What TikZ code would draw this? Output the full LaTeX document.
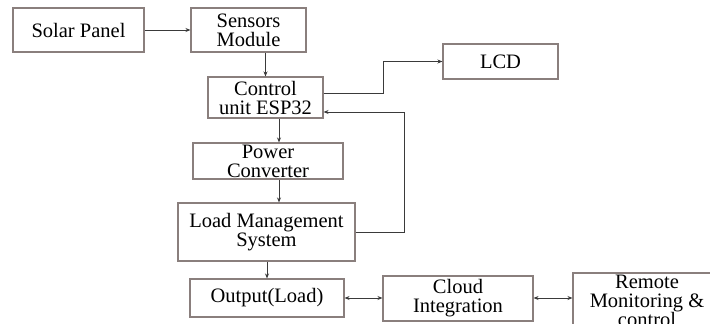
\documentclass[tikz,border=0pt]{standalone}
\usepackage{fontspec}
\setmainfont{Liberation Serif}
\usetikzlibrary{arrows.meta,calc}
\definecolor{boxcol}{HTML}{8A7F7D}
\definecolor{wirecol}{HTML}{3A3A3A}
\tikzset{
  blk/.style={draw=boxcol, line width=1.1pt, fill=white, inner sep=0pt, align=center,
    font=\fontsize{20.5}{19}\selectfont, text=black},
  txt/.style={inner sep=0pt, align=center, font=\fontsize{20.5}{19}\selectfont, text=black},
  arr/.style={draw=wirecol, line width=0.9pt, -{Stealth[length=5pt,width=4pt]}},
  darr/.style={draw=wirecol, line width=0.9pt, {Stealth[length=5pt,width=4pt]}-{Stealth[length=5pt,width=4pt]}}
}
\begin{document}
\begin{tikzpicture}[x=1pt,y=-1pt]
\useasboundingbox (0,0) rectangle (710,324);
\clip (0,0) rectangle (710,324);
\fill[white] (0,0) rectangle (710,324);

\node[blk, minimum width=131pt, minimum height=44pt] (solar) at (78.5,30) {Solar Panel};
\node[blk, minimum width=115pt, minimum height=44pt] (sens) at (248.5,30) {Sensors\\Module};
\node[blk, minimum width=115pt, minimum height=41pt] (ctrl) at (265.5,97.5) {Control\\unit ESP32};
\node[blk, minimum width=115pt, minimum height=35pt] (lcd) at (500.5,61.5) {LCD};
\node[blk, minimum width=150pt, minimum height=36pt] (pow) at (268,161) {Power\\Converter};
\node[blk, minimum width=177pt, minimum height=58pt] (load) at (266.5,232) {Load Management\\System};
\node[blk, minimum width=154pt, minimum height=38pt] (out) at (267,298) {Output(Load)};
\node[blk, minimum width=150pt, minimum height=45pt] (cloud) at (458,298.5) {Cloud\\Integration};
\node[blk, minimum width=149pt, minimum height=60pt] (remote) at (647.5,303) {};
\node[txt] (remotetxt) at (647,300.5) {Remote\\Monitoring \&\\control};

\coordinate (cx) at (279,0);
\coordinate (lx) at (383,0);
\coordinate (fb) at (404,112);

\draw[arr] (solar.east) -- (sens.west);
\draw[arr] (sens.south -| ctrl.north) -- (ctrl.north);
\draw[arr] ([yshift=4.5pt]ctrl.east) -| (lx |- lcd.west) -- (lcd.west);
\draw[arr] (ctrl.south -| cx) -- (pow.north -| cx);
\draw[arr] (pow.south -| cx) -- (load.north -| cx);
\draw[arr] (load.south -| out.north) -- (out.north);
\draw[arr] (load.east) -| (fb) -- (fb -| ctrl.east);
\draw[darr] (out.east) -- (out.east -| cloud.west);
\draw[darr] (cloud.east |- out.east) -- (remote.west |- out.east);
\end{tikzpicture}
\end{document}
